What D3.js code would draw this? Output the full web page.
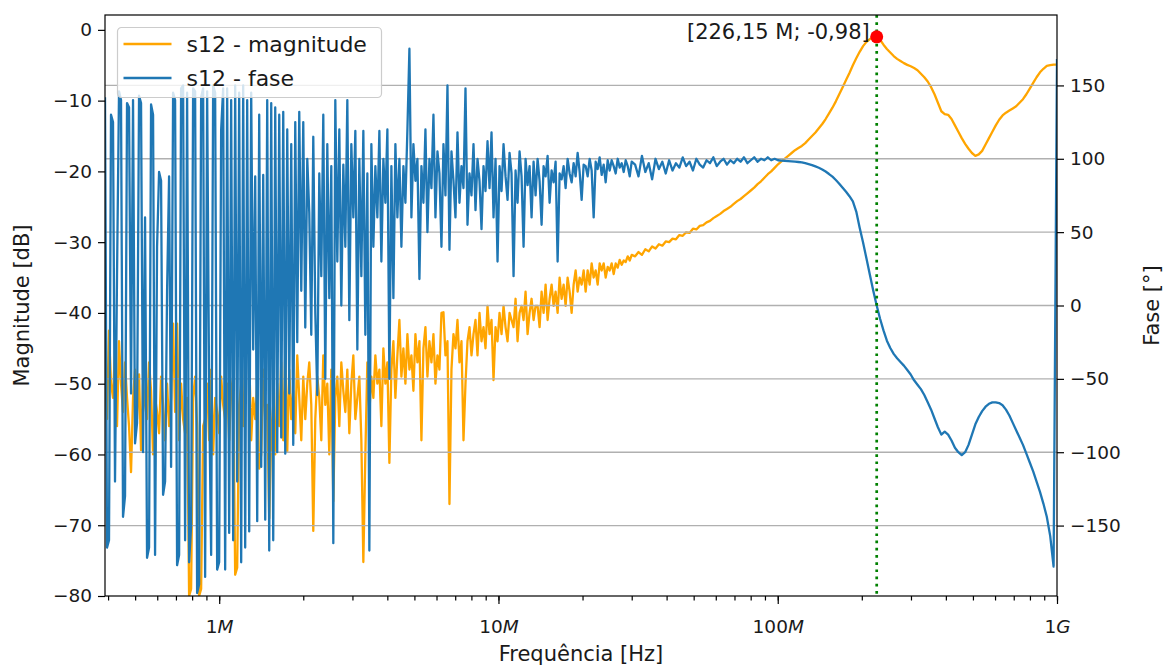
<!DOCTYPE html>
<html>
<head>
<meta charset="utf-8">
<script src="https://cdn.jsdelivr.net/npm/d3@7"></script>
<style>
  body { margin: 0; background: #fff; }
  text { font-family: "DejaVu Sans", sans-serif; fill: #1a1a1a; }
</style>
</head>
<body>
<div id="chart"></div>
<script>
// VNA sweep, two log-spaced segments: dense (noisy low band) and coarse
var fStart = 3.9e5, fSplit = 3e7, fStop = 1e9;
var nDense = 264, nCoarse = 125;

// s12 magnitude [dB], dense segment (12 points per row)
var magDense = [
  -48, -55, -42.5, -50, -52, -45, -56, -44, -50, -54, -47, -52,
  -56, -62.5, -52, -48, -55, -48.7, -59.4, -50, -53, -55, -47, -51,
  -60, -52, -54, -57, -49, -53, -58, -50, -56, -52, -41.5, -54,
  -41.5, -58, -50, -55, -57, -52, -80, -79, -52, -49, -56, -80,
  -79, -56, -55, -50, -58, -48, -60, -52, -54, -57, -49, -53,
  -55, -50, -58, -51, -49, -77, -76, -53, -50, -56, -47, -44.5,
  -46, -58, -52, -55, -50, -62, -60, -48, -55, -53, -69, -57,
  -53, -60, -50, -56, -47, -58, -45.6, -59.6, -48, -55, -51, -57,
  -46, -52, -58, -49, -55, -50, -47, -53, -70.8, -55, -49, -52,
  -58, -46, -53, -50, -60, -48, -66.6, -52, -49, -56, -47, -51,
  -54, -48, -57, -50, -46, -55, -52, -49, -58, -75.2, -60, -47,
  -54, -49, -52, -46, -50, -48, -56, -45, -50, -47, -61.2, -48,
  -44, -52, -46, -41, -49, -45, -50, -43, -48, -46, -51, -43,
  -47, -44, -58, -45, -42, -49, -44, -47, -43, -50, -46, -48,
  -40, -39.9, -46, -44, -67, -48, -43, -45, -41, -47, -44, -58,
  -50, -44, -42, -46, -43, -41, -46, -40, -44, -42, -45, -39,
  -43, -41, -49.5, -42, -44, -40, -43, -39, -42, -44, -40, -41,
  -42, -38, -44, -40, -39, -41, -37, -43, -40, -38, -41, -39,
  -39, -42, -37, -40, -36, -41, -38, -36, -39, -37, -40, -35,
  -38, -36, -39, -35, -37, -40, -36, -34, -37, -35, -36, -34,
  -37, -34, -36, -33, -35, -34, -36, -33, -34, -33, -35, -33.5,
  -34, -33, -34.5, -33, -33.6, -32.5, -33.2, -32.6, -32.8, -32, -32.6, -31.8
];

// s12 magnitude [dB], coarse segment (10 points per row)
var magCoarse = [
  -32, -31.4, -31.8, -31, -31.3, -30.6, -30.9, -30.3, -30.5, -29.9,
  -30, -29.5, -29.6, -29, -29.1, -28.6, -28.7, -28.1, -28.2, -27.7,
  -27.6, -27.2, -27, -26.6, -26.3, -26, -25.6, -25.3, -25, -24.6,
  -24.2, -23.9, -23.5, -23.1, -22.7, -22.3, -21.8, -21.4, -20.9, -20.4,
  -20, -19.5, -19, -18.6, -18.2, -17.8, -17.4, -17, -16.7, -16.4,
  -16.0, -15.5, -15, -14.5, -13.9, -13.3, -12.6, -11.8, -11, -10.1,
  -9.1, -8.1, -7.1, -6.1, -5.0, -4.0, -3.1, -2.3, -1.7, -1.3,
  -1.05, -0.98, -1.4, -2.1, -2.7, -3.2, -3.7, -4.1, -4.4, -4.7,
  -4.95, -5.15, -5.4, -5.7, -6.2, -6.7, -7.3, -8.1, -9.1, -10.3,
  -11.5, -11.9, -12.0, -12.6, -13.5, -14.4, -15.3, -16.1, -16.8, -17.4,
  -17.8, -17.6, -17.1, -16.2, -15.3, -14.4, -13.5, -12.7, -12.1, -11.7,
  -11.4, -11.1, -10.8, -10.3, -9.8, -9.1, -8.3, -7.5, -6.7, -6.0,
  -5.5, -5.1, -5.0, -4.9, -4.9
];

// s12 phase [deg], dense segment
var phaseDense = [
  142, -165, -160, 130, 125, -120, 20, 146, 140, -144, -130, 138,
  135, -60, 140, -94, -80, 143, 138, -100, 60, -172, -165, 137,
  130, -170, 40, 91, 85, -129, -120, 10, 88, -110, 145, 140,
  -177, -170, 148, 150, -160, 145, -175, -150, 148, 146, -196, -190,
  142, 148, -185, 146, -60, -170, 150, 145, -180, -175, 120, 148,
  -180, 148, -155, 140, -160, 150, -120, 145, -175, 150, -165, 140,
  -154, 145, -30, 88, -147, 130, -110, 89, -146, 140, -167, 138,
  -160, 135, -100, 130, -90, 132, -101, 120, -60, 110, -95, 125,
  -25, 132, 10, 125, -15, 100, 63, -20, 115, -5, -61, 90,
  20, 130, -50, 110, 5, 95, -162, 140, 30, 120, 0, 96,
  40, 140, -10, 110, 60, 119, -30, 100, 20, 119, -20, 90,
  -167, 110, 40, 95, 60, 119, 30, 100, 70, 120, -50, 95,
  5, 110, 60, 100, 40, 95, 70, 120, 175, 60, 110, 85,
  100, 18, 95, 70, 120, 50, 100, 80, 130, 60, 105, 90,
  40, 110, 75, 150, 38, 105, 85, 60, 118, 70, 95, 80,
  148, 55, 90, 75, 110, 65, 100, 85, 52, 95, 78, 112,
  80, 118, 60, 100, 30, 95, 78, 110, 88, 72, 104, 90,
  20, 92, 70, 105, 88, 40, 100, 82, 95, 60, 98, 75,
  100, 85, 55, 95, 88, 102, 70, 92, 84, 98, 30, 90,
  86, 95, 80, 100, 90, 84, 97, 88, 104, 91, 72, 96,
  95, 88, 100, 92, 60, 98, 93, 101, 89, 96, 84, 99,
  92, 99, 95, 90, 100, 94, 97, 91, 99, 95, 88, 98
];

// s12 phase [deg], coarse segment
var phaseCoarse = [
  96, 88, 102, 91, 97, 86, 100, 93, 98, 90,
  99, 92, 97, 94, 101, 95, 98, 92, 100, 96,
  94, 99, 97, 101, 95, 98, 100, 96, 99, 97,
  100, 98, 101, 97, 99, 101, 98, 100, 99, 101,
  99, 100, 99, 98.8, 98.6, 98.4, 98.2, 98, 97.8, 97.5,
  97, 96.4, 95.7, 94.8, 93.9, 92.7, 91.3, 89.6, 87.8, 85.5,
  83, 80.2, 77.5, 74.5, 71, 64, 53, 43, 32, 21,
  10, 0, -9, -17, -24, -29, -33, -36, -38.5, -41,
  -44, -47, -51, -54, -57, -61, -66, -71, -77, -83,
  -88, -86, -88, -92, -97, -100, -102, -100, -95, -88,
  -81, -76, -72, -69, -67, -66, -66, -66.5, -68, -71,
  -75, -80, -85, -90, -95, -101, -107, -113, -120, -127,
  -135, -144, -157, -178, 168
];

var magTicks = [0, -10, -20, -30, -40, -50, -60, -70, -80];
var phaseTicks = [150, 100, 50, 0, -50, -100, -150];
var freqTicks = [1e6, 1e7, 1e8, 1e9];
var freqTickLabels = [["1", "M"], ["10", "M"], ["100", "M"], ["1", "G"]];
var seriesNames = ["s12 - magnitude", "s12 - fase"];
var peakFreq = 226.15e6, peakMag = -0.98;
var peakLabel = "[226,15 M; -0,98]";

var fullwidth = 1163, fullheight = 668;
var margin = {top: 15, right: 106, bottom: 72, left: 105};
var width = fullwidth - margin.left - margin.right;
var height = fullheight - margin.top - margin.bottom;

var colMag = "#ffa500", colPhase = "#1f77b4";

// sweep frequencies
var freqsDense = d3.range(nDense).map(function(j) {
    return fStart * Math.pow(fSplit / fStart, j / (nDense - 1));
});
var freqsCoarse = d3.range(nCoarse).map(function(i) {
    return fSplit * Math.pow(fStop / fSplit, (i + 1) / nCoarse);
});
var freqs = freqsDense.concat(freqsCoarse);
var magnitude = magDense.concat(magCoarse);
var phase = phaseDense.concat(phaseCoarse);

var svgRoot = d3.select("#chart").append("svg")
    .attr("width", fullwidth)
    .attr("height", fullheight);
var svg = svgRoot.append("g")
    .attr("transform", "translate(" + margin.left + "," + margin.top + ")");

svg.append("clipPath").attr("id", "clip")
    .append("rect").attr("width", width).attr("height", height);

var xScale = d3.scaleLog().domain([fStart, fStop]).range([0, width]);
var yMag = d3.scaleLinear().domain([-80, 2.1]).range([height, 0]);
var yPh = d3.scaleLinear().domain([-198, 198]).range([height, 0]);

var minus = function(d) { return d < 0 ? "\u2212" + Math.abs(d) : "" + d; };

// magnitude line (first axes)
var magLine = d3.line()
    .x(function(d, i) { return xScale(freqs[i]); })
    .y(function(d) { return yMag(d); });

svg.append("path")
    .datum(magnitude)
    .attr("clip-path", "url(#clip)")
    .attr("fill", "none")
    .attr("stroke", colMag)
    .attr("stroke-width", 2.3)
    .attr("stroke-linejoin", "round")
    .attr("d", magLine);

// grid from the phase axis
svg.append("g")
    .selectAll("line")
    .data(phaseTicks)
    .enter()
    .append("line")
    .attr("x1", 0).attr("x2", width)
    .attr("y1", function(d) { return yPh(d); })
    .attr("y2", function(d) { return yPh(d); })
    .attr("stroke", "#b0b0b0")
    .attr("stroke-width", 1.4);

// phase line (twin axes)
var phLine = d3.line()
    .x(function(d, i) { return xScale(freqs[i]); })
    .y(function(d) { return yPh(d); });

svg.append("path")
    .datum(phase)
    .attr("clip-path", "url(#clip)")
    .attr("fill", "none")
    .attr("stroke", colPhase)
    .attr("stroke-width", 2.3)
    .attr("stroke-linejoin", "round")
    .attr("d", phLine);

// peak marker
svg.append("line")
    .attr("x1", xScale(peakFreq)).attr("x2", xScale(peakFreq))
    .attr("y1", 0).attr("y2", height)
    .attr("stroke", "#008000")
    .attr("stroke-width", 2.7)
    .attr("stroke-dasharray", "2.7,4.5");

svg.append("circle")
    .attr("cx", xScale(peakFreq))
    .attr("cy", yMag(peakMag))
    .attr("r", 6.5)
    .attr("fill", "#ff0000");

svg.append("text")
    .attr("x", xScale(peakFreq) - 7)
    .attr("y", yMag(peakMag) + 2.5)
    .attr("text-anchor", "end")
    .style("font-size", "21px")
    .text(peakLabel);

// axes
var yAxisL = d3.axisLeft(yMag).tickValues(magTicks).tickFormat(minus).tickSize(7).tickPadding(6);
var yAxisR = d3.axisRight(yPh).tickValues(phaseTicks).tickFormat(minus).tickSize(7).tickPadding(6);
var xAxisMinor = d3.axisBottom(xScale).tickValues(xScale.ticks()).tickSize(4.5).tickFormat("");
var xAxis = d3.axisBottom(xScale).tickValues(freqTicks).tickSize(8).tickFormat("");

function styleAxis(g) {
    g.select(".domain").remove();
    g.selectAll(".tick line").attr("stroke", "#000").attr("stroke-width", 1.2);
    g.selectAll(".tick text").style("font-size", "18.5px").attr("fill", "#1a1a1a");
}

svg.append("g").call(yAxisL).call(styleAxis);
svg.append("g").attr("transform", "translate(" + width + ",0)").call(yAxisR).call(styleAxis);
svg.append("g").attr("transform", "translate(0," + height + ")").call(xAxisMinor).call(styleAxis);

var gx = svg.append("g").attr("transform", "translate(0," + height + ")").call(xAxis).call(styleAxis);
gx.selectAll(".tick").each(function(d, i) {
    var t = d3.select(this).append("text")
        .attr("y", 37)
        .attr("text-anchor", "middle")
        .style("font-size", "18.5px");
    t.append("tspan").text(freqTickLabels[i][0]);
    t.append("tspan").style("font-style", "italic").text(freqTickLabels[i][1]);
});

// frame
svg.append("rect")
    .attr("width", width).attr("height", height)
    .attr("fill", "none")
    .attr("stroke", "#000")
    .attr("stroke-width", 1.2);

// axis labels
svg.append("text")
    .attr("x", width / 2).attr("y", height + 65)
    .attr("text-anchor", "middle")
    .style("font-size", "21px")
    .text("Frequência [Hz]");

svg.append("text")
    .attr("transform", "translate(" + (-76) + "," + (height / 2) + ") rotate(-90)")
    .attr("text-anchor", "middle")
    .style("font-size", "21px")
    .text("Magnitude [dB]");

svg.append("text")
    .attr("transform", "translate(" + (width + 102) + "," + (height / 2) + ") rotate(-90)")
    .attr("text-anchor", "middle")
    .style("font-size", "21px")
    .text("Fase [°]");

// legend
var legend = svg.append("g").attr("transform", "translate(12.5,12.5)");
legend.append("rect")
    .attr("width", 264).attr("height", 70)
    .attr("rx", 4).attr("ry", 4)
    .attr("fill", "#fff").attr("fill-opacity", 0.8)
    .attr("stroke", "#cccccc").attr("stroke-width", 1.2);

var legendColors = [colMag, colPhase];
seriesNames.forEach(function(name, i) {
    var ly = 16.5 + i * 34;
    legend.append("line")
        .attr("x1", 6).attr("x2", 54)
        .attr("y1", ly).attr("y2", ly)
        .attr("stroke", legendColors[i])
        .attr("stroke-width", 2.4);
    legend.append("text")
        .attr("x", 69).attr("y", ly + 8)
        .style("font-size", "22px")
        .text(name);
});
</script>
</body>
</html>
